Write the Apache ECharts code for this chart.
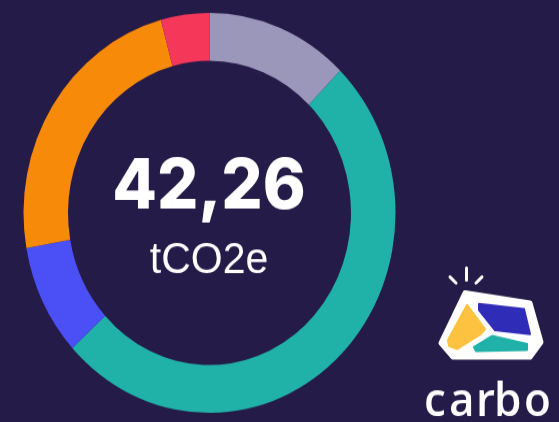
<!DOCTYPE html>
<html>
<head>
<meta charset="utf-8">
<script src="https://cdn.jsdelivr.net/npm/echarts@6/dist/echarts.min.js"></script>
<style>
  html,body{margin:0;padding:0;background:#251b48;overflow:hidden;}
  #wrap{width:559px;height:422px;overflow:hidden;}
  /* source image is a bit taller than wide, so stretch the chart vertically */
  #chart{width:559px;height:392.6px;transform:scale(1,1.075);transform-origin:0 0;}
</style>
</head>
<body>
<div id="wrap"><div id="chart"></div></div>
<script>
// emission sources (tCO2e), clockwise from 12 o'clock
const categories = ['Autres', 'Achats', 'Énergie', 'Déplacements', 'Déchets'];
const values = [5.24, 21.47, 3.80, 9.97, 1.78];
const colors = ['#9a97bb', '#20b1a8', '#4a50f6', '#f78b09', '#f5385a'];
const unit = 'tCO2e';

const SY = 1.075; // vertical stretch of the container
const sy = v => v / SY;

const total = values.reduce((a, b) => a + b, 0);
const totalLabel = total.toFixed(2).replace('.', ',');

const chart = echarts.init(document.getElementById('chart'), null, {renderer: 'canvas'});

// logo glyph parts (decoration, not data)
const logo = [
  {type: 'polygon', shape: {points: [[465,293],[530,303],[541,342],[530,357],[453,357],[441,343]].map(p => [p[0], sy(p[1])])},
    style: {fill: '#ffffff', stroke: '#ffffff', lineWidth: 5, lineJoin: 'round'}},
  {type: 'polygon', shape: {points: [[467,305],[485,329],[481,334],[457,349],[449,346],[448,340]].map(p => [p[0], sy(p[1])])},
    style: {fill: '#fdc340', stroke: '#fdc340', lineWidth: 2, lineJoin: 'round'}},
  {type: 'polygon', shape: {points: [[479,304],[524,309],[530,334],[495,330],[479,310]].map(p => [p[0], sy(p[1])])},
    style: {fill: '#2f2cb8', stroke: '#2f2cb8', lineWidth: 2, lineJoin: 'round'}},
  {type: 'polygon', shape: {points: [[492,336],[527,344],[527,350],[476,351],[474,347]].map(p => [p[0], sy(p[1])])},
    style: {fill: '#20b1a8', stroke: '#20b1a8', lineWidth: 2, lineJoin: 'round'}},
  {type: 'line', shape: {x1: 450, y1: sy(277), x2: 456, y2: sy(283)}, style: {stroke: '#fff', lineWidth: 3, lineCap: 'round'}},
  {type: 'line', shape: {x1: 466.5, y1: sy(268), x2: 466.5, y2: sy(280)}, style: {stroke: '#fff', lineWidth: 3, lineCap: 'round'}},
  {type: 'line', shape: {x1: 476, y1: sy(283), x2: 482, y2: sy(277)}, style: {stroke: '#fff', lineWidth: 3, lineCap: 'round'}}
];
const brand = [['c',424],['a',449],['r',476],['b',494],['o',524]].map(([ch, x]) => ({
  type: 'text', left: x, top: sy(379),
  style: {text: ch, fill: '#ffffff', font: '600 44px "Open Sans"'}
}));

const option = {
  backgroundColor: '#251b48',
  animation: false,
  series: [{
    type: 'pie',
    center: [209.5, 198.1],
    radius: [141.5, 186],
    startAngle: 90,
    clockwise: true,
    avoidLabelOverlap: false,
    label: {show: false},
    labelLine: {show: false},
    emphasis: {disabled: true},
    data: categories.map((name, i) => ({name, value: values[i], itemStyle: {color: colors[i]}}))
  }],
  graphic: [
    {type: 'text', x: 209, y: 174.5,
      style: {text: totalLabel, fill: '#ffffff', font: '800 65px Inter', align: 'center', verticalAlign: 'middle'}},
    {type: 'text', x: 209, y: 243,
      style: {text: unit, fill: '#ffffff', font: '41px "Liberation Sans"', align: 'center', verticalAlign: 'middle'}},
    ...logo,
    ...brand
  ]
};
chart.setOption(option);
</script>
</body>
</html>
